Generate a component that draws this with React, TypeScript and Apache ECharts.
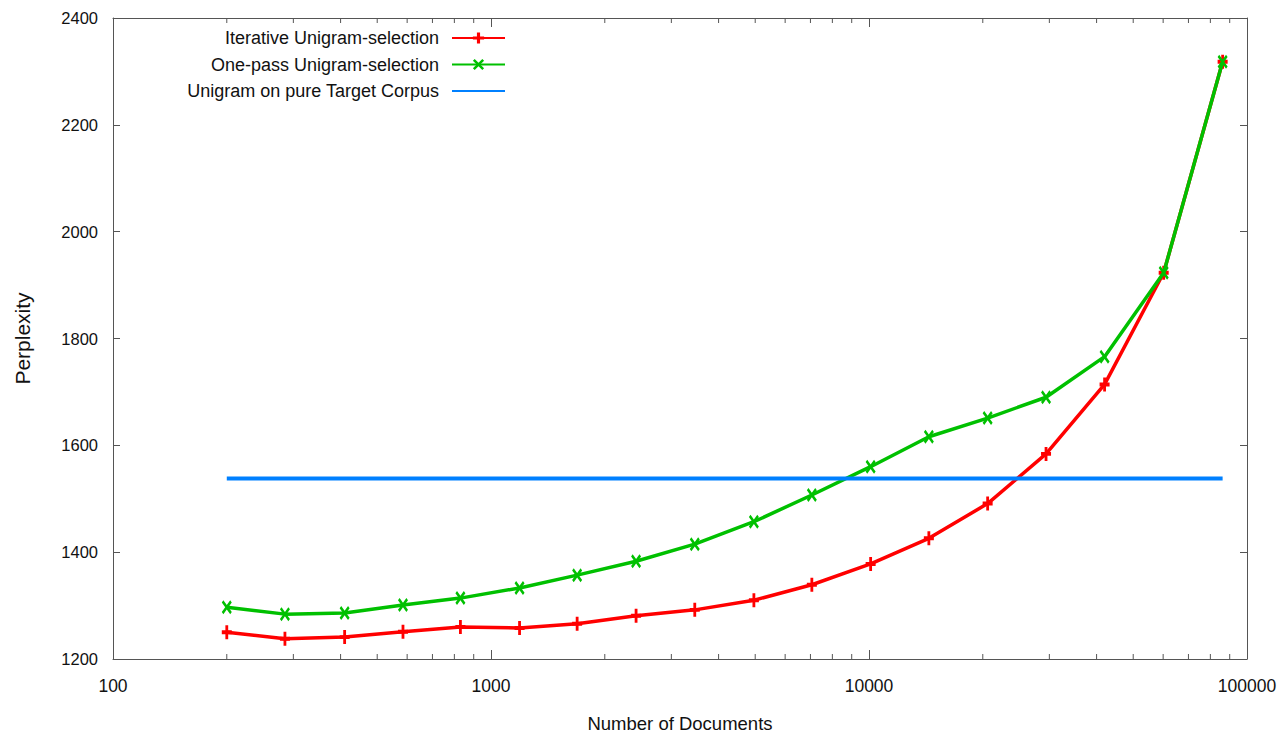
import React, { useEffect, useRef } from "react";
import * as echarts from "echarts";

// Number of documents selected (log scale)
const docCounts = [
  200, 285, 410, 585, 830, 1190, 1690, 2420, 3460, 4960, 7060, 10100, 14400,
  20600, 29400, 42000, 60200, 86200,
];

const iterativePerplexity = [
  1250, 1238, 1241, 1251, 1260, 1258, 1266, 1281, 1292, 1310, 1339, 1378, 1426,
  1491, 1584, 1714, 1923, 2318,
];

const onePassPerplexity = [
  1297, 1284, 1286, 1301, 1314, 1333, 1357, 1383, 1415, 1457, 1507, 1560, 1616,
  1651, 1690, 1766, 1923, 2318,
];

const targetCorpusPerplexity = 1538;

const seriesNames = [
  "Iterative Unigram-selection",
  "One-pass Unigram-selection",
  "Unigram on pure Target Corpus",
];

// Minor tick positions of the log axis
const minorTicks = [
  200, 300, 400, 500, 600, 700, 800, 900,
  2000, 3000, 4000, 5000, 6000, 7000, 8000, 9000,
  20000, 30000, 40000, 50000, 60000, 70000, 80000, 90000,
];

const PLUS = "path://M3.6,0H6.4V3.6H10V6.4H6.4V10H3.6V6.4H0V3.6H3.6Z";
const CROSS =
  "path://M0,1.6L1.6,0L5,3.4L8.4,0L10,1.6L6.6,5L10,8.4L8.4,10L5,6.6L1.6,10L0,8.4L3.4,5Z";
// thin bar centred in a 10x10 box, so the legend sample of the plain line shows only the line
const FLAT = "path://M0,0M0,4.7H10V5.3H0ZM10,10";

const FONT = "'Liberation Sans', Arial, sans-serif";
const AXIS_COLOR = "#555";
const TEXT_COLOR = "#111";

export default function App() {
  const ref = useRef<HTMLDivElement>(null);

  useEffect(() => {
    if (!ref.current) return;
    const chart = echarts.init(ref.current, undefined, { renderer: "svg" });

    const pairs = (ys: number[]) => docCounts.map((x, i) => [x, ys[i]]);

    chart.setOption({
      animation: false,
      backgroundColor: "#fff",
      grid: { left: 113, right: 37, top: 18, bottom: 76, outerBoundsMode: "none" },
      legend: {
        data: seriesNames,
        orient: "vertical",
        align: "right",
        right: 778,
        top: 27,
        padding: 0,
        itemWidth: 53,
        itemHeight: 14,
        itemGap: 4.5,
        textStyle: {
          fontFamily: FONT,
          fontSize: 18,
          lineHeight: 22,
          color: TEXT_COLOR,
          padding: [0, 8, 0, 0],
        },
      },
      xAxis: [
        {
          type: "log",
          logBase: 10,
          min: 100,
          max: 100000,
          name: "Number of Documents",
          nameLocation: "middle",
          nameGap: 55,
          nameTextStyle: { fontFamily: FONT, fontSize: 18.5, color: TEXT_COLOR },
          axisLine: { show: true, lineStyle: { color: AXIS_COLOR, width: 1 } },
          axisTick: { show: true, inside: true, length: 9, lineStyle: { color: AXIS_COLOR } },
          axisLabel: {
            fontFamily: FONT,
            fontSize: 17.5,
            color: TEXT_COLOR,
            margin: 18,
            formatter: (v: number) => String(Math.round(v)),
          },
          splitLine: { show: false },
        },
        {
          type: "log",
          logBase: 10,
          min: 100,
          max: 100000,
          position: "top",
          axisLine: { show: true, lineStyle: { color: AXIS_COLOR, width: 1 } },
          axisTick: { show: true, inside: true, length: 9, lineStyle: { color: AXIS_COLOR } },
          axisLabel: { show: false },
          splitLine: { show: false },
        },
      ],
      yAxis: [
        {
          type: "value",
          min: 1200,
          max: 2400,
          interval: 200,
          name: "Perplexity",
          nameLocation: "middle",
          nameGap: 80,
          nameTextStyle: { fontFamily: FONT, fontSize: 21, color: TEXT_COLOR },
          axisLine: { show: true, lineStyle: { color: AXIS_COLOR, width: 1 } },
          axisTick: { show: true, inside: true, length: 7, lineStyle: { color: AXIS_COLOR } },
          axisLabel: {
            fontFamily: FONT,
            fontSize: 16.5,
            color: TEXT_COLOR,
            margin: 15,
            formatter: (v: number) => String(v),
          },
          splitLine: { show: false },
        },
        {
          type: "value",
          min: 1200,
          max: 2400,
          interval: 200,
          position: "right",
          axisLine: { show: true, lineStyle: { color: AXIS_COLOR, width: 1 } },
          axisTick: { show: true, inside: true, length: 7, lineStyle: { color: AXIS_COLOR } },
          axisLabel: { show: false },
          splitLine: { show: false },
        },
      ],
      series: [
        {
          type: "custom",
          name: "minor-ticks",
          silent: true,
          xAxisIndex: 0,
          yAxisIndex: 0,
          data: minorTicks.map((v) => [v]),
          renderItem: (_params: any, api: any) => {
            const v = api.value(0);
            const bottom = api.coord([v, 1200]);
            const top = api.coord([v, 2400]);
            const style = { stroke: AXIS_COLOR, lineWidth: 1 };
            return {
              type: "group",
              children: [
                {
                  type: "line",
                  shape: { x1: bottom[0], y1: bottom[1], x2: bottom[0], y2: bottom[1] - 5 },
                  style,
                },
                {
                  type: "line",
                  shape: { x1: top[0], y1: top[1], x2: top[0], y2: top[1] + 5 },
                  style,
                },
              ],
            };
          },
        },
        {
          type: "line",
          name: seriesNames[0],
          data: pairs(iterativePerplexity),
          symbol: PLUS,
          symbolSize: [10, 14],
          showAllSymbol: true,
          color: "#ff0000",
          lineStyle: { color: "#ff0000", width: 3.5 },
          itemStyle: { color: "#ff0000" },
          z: 3,
        },
        {
          type: "line",
          name: seriesNames[1],
          data: pairs(onePassPerplexity),
          symbol: CROSS,
          symbolSize: [10, 14],
          showAllSymbol: true,
          color: "#00c000",
          lineStyle: { color: "#00c000", width: 3.5 },
          itemStyle: { color: "#00c000" },
          z: 4,
        },
        {
          type: "line",
          name: seriesNames[2],
          data: [
            [docCounts[0], targetCorpusPerplexity],
            [docCounts[docCounts.length - 1], targetCorpusPerplexity],
          ],
          symbol: FLAT,
          showSymbol: false,
          color: "#0080ff",
          lineStyle: { color: "#0080ff", width: 4 },
          itemStyle: { color: "#0080ff" },
          z: 5,
        },
      ],
    });

    return () => chart.dispose();
  }, []);

  return (
    <div
      ref={ref}
      style={{ position: "fixed", left: 0, top: 0, width: 1284, height: 735 }}
    />
  );
}
